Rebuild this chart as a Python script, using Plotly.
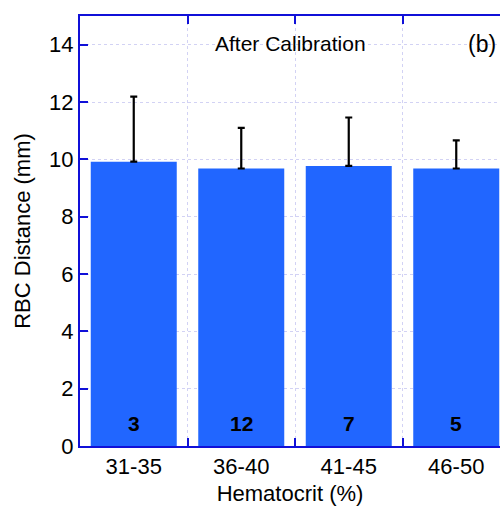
import plotly.graph_objects as go

categories = ["31-35", "36-40", "41-45", "46-50"]
means = [9.92, 9.68, 9.77, 9.68]
errors = [2.27, 1.42, 1.69, 0.98]
counts = ["3", "12", "7", "5"]

AXIS = "#1010d8"
BAR = "#2166ff"
GRID = "#d2d2f4"
FONT = "Liberation Sans, Arial, sans-serif"

fig = go.Figure()
fig.add_trace(go.Bar(
    x=categories, y=means,
    marker=dict(color=BAR, line=dict(width=0)),
    error_y=dict(type="data", array=errors, arrayminus=[0] * len(errors),
                 symmetric=False, color="black", thickness=2.2, width=3.5),
    showlegend=False,
))

for c, n in zip(categories, counts):
    fig.add_annotation(x=c, y=0.77, text="<b>%s</b>" % n, showarrow=False,
                       font=dict(size=21, color="black", family=FONT),
                       xanchor="center", yanchor="middle")

fig.add_annotation(xref="paper", yref="paper", x=0.5, y=0.935,
                   text="After Calibration", showarrow=False,
                   font=dict(size=21, color="black", family=FONT),
                   xanchor="center", yanchor="middle")
fig.add_annotation(xref="paper", yref="paper", x=0.995, y=0.935,
                   text="(b)", showarrow=False,
                   font=dict(size=23, color="black", family=FONT),
                   xanchor="right", yanchor="middle")

fig.update_layout(
    width=500, height=506,
    margin=dict(l=80, r=0, t=16, b=60),
    paper_bgcolor="white", plot_bgcolor="white",
    bargap=0.2,
    hovermode=False,
    font=dict(family=FONT, size=22, color="black"),
    xaxis=dict(
        type="category", range=[-0.5, 3.407],
        tickson="boundaries", ticks="inside", ticklen=8, tickwidth=2,
        tickcolor=AXIS, showline=True, linecolor=AXIS, linewidth=2,
        mirror="ticks", showgrid=True, gridcolor=GRID, griddash="dot",
        gridwidth=1, tickfont=dict(size=22, family=FONT, color="black"),
        title=dict(text="Hematocrit (%)", font=dict(size=22, family=FONT), standoff=9),
    ),
    yaxis=dict(
        range=[0, 15], tickvals=[0, 2, 4, 6, 8, 10, 12, 14],
        ticks="inside", ticklen=8, tickwidth=2, tickcolor=AXIS,
        showline=True, linecolor=AXIS, linewidth=2, mirror=False,
        showgrid=True, gridcolor=GRID, griddash="dot", gridwidth=1,
        zeroline=False, tickfont=dict(size=22, family=FONT, color="black"),
        title=dict(text="RBC Distance (mm)", font=dict(size=22, family=FONT), standoff=12),
    ),
)

fig.write_html(
    "out.html",
    config={"displayModeBar": False},
    post_script="document.body.style.margin='0';document.body.style.overflow='hidden';",
)
